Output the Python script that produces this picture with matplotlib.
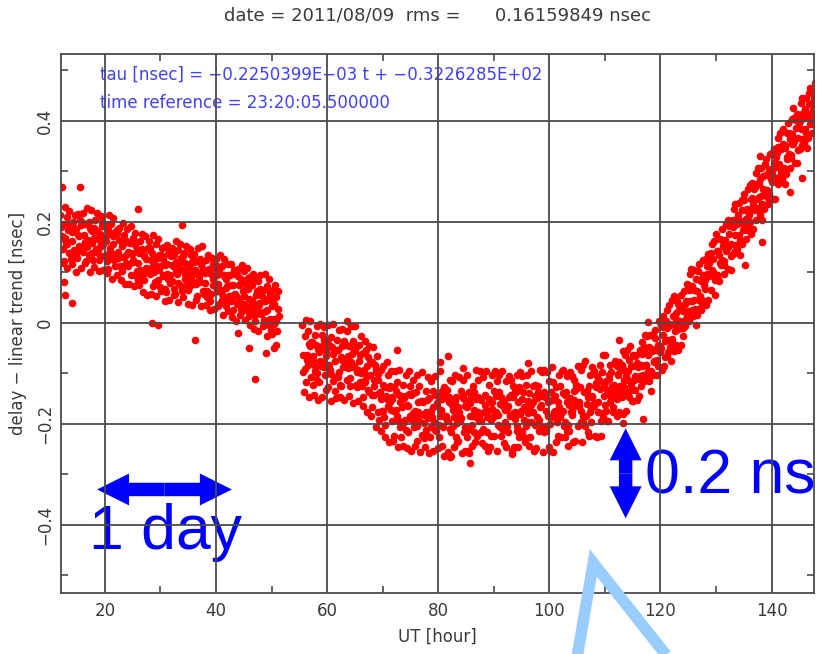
import matplotlib
matplotlib.use('Agg')
import matplotlib.pyplot as plt
from matplotlib.patches import FancyArrowPatch
from matplotlib.lines import Line2D
from matplotlib.ticker import MultipleLocator

plt.rcParams['font.family'] = ['DejaVu Sans']

title_text = 'date = 2011/08/09  rms =      0.16159849 nsec'
fit_text = 'tau [nsec] = \u22120.2250399E\u221203 t + \u22120.3226285E+02'
ref_text = 'time reference = 23:20:05.500000'
x_label = 'UT [hour]'
y_label = 'delay \u2212 linear trend [nsec]'
x_ticks = [20, 40, 60, 80, 100, 120, 140]
y_ticks = [-0.4, -0.2, 0, 0.2, 0.4]
y_tick_labels = ['\u22120.4', '\u22120.2', '0', '0.2', '0.4']

# each row: start hour, then four consecutive delay samples [nsec] (7.5 min apart)
sample_step = 0.125
left_scans = [
    (12.0, 0.213, 0.147, 0.171, 0.118), (12.5, 0.195, 0.122, 0.229, 0.164), (13.0, 0.156, 0.210, 0.108, 0.183),
    (13.5, 0.221, 0.139, 0.184, 0.127), (14.0, 0.162, 0.116, 0.200, 0.145), (14.5, 0.188, 0.214, 0.137, 0.101),
    (15.0, 0.129, 0.173, 0.215, 0.152), (15.5, 0.204, 0.108, 0.150, 0.196), (16.0, 0.217, 0.141, 0.173, 0.119),
    (16.5, 0.195, 0.122, 0.228, 0.164), (17.0, 0.156, 0.200, 0.101, 0.187), (17.5, 0.223, 0.139, 0.182, 0.125),
    (18.0, 0.168, 0.110, 0.204, 0.146), (18.5, 0.181, 0.217, 0.139, 0.103), (19.0, 0.125, 0.176, 0.212, 0.158),
    (19.5, 0.200, 0.104, 0.157, 0.191), (20.0, 0.196, 0.134, 0.162, 0.098), (20.5, 0.183, 0.107, 0.214, 0.149),
    (21.0, 0.142, 0.196, 0.087, 0.171), (21.5, 0.208, 0.125, 0.176, 0.113), (22.0, 0.137, 0.094, 0.183, 0.128),
    (22.5, 0.165, 0.188, 0.112, 0.084), (23.0, 0.103, 0.152, 0.197, 0.131), (23.5, 0.174, 0.076, 0.118, 0.163),
    (24.0, 0.186, 0.113, 0.141, 0.077), (24.5, 0.158, 0.095, 0.192, 0.136), (25.0, 0.124, 0.168, 0.073, 0.154),
    (25.5, 0.177, 0.092, 0.146, 0.083), (26.0, 0.119, 0.074, 0.163, 0.105), (26.5, 0.143, 0.176, 0.088, 0.062),
    (27.0, 0.085, 0.133, 0.172, 0.109), (27.5, 0.147, 0.056, 0.103, 0.144), (28.0, 0.162, 0.097, 0.125, 0.058),
    (28.5, 0.138, 0.072, 0.174, 0.116), (29.0, 0.104, 0.157, 0.053, 0.129), (29.5, 0.166, 0.085, 0.134, 0.071),
    (30.0, 0.113, 0.064, 0.148, 0.095), (30.5, 0.127, 0.151, 0.068, 0.043), (31.0, 0.062, 0.116, 0.155, 0.087),
    (31.5, 0.141, 0.046, 0.094, 0.133), (32.0, 0.148, 0.083, 0.112, 0.055), (32.5, 0.135, 0.058, 0.163, 0.102),
    (33.0, 0.096, 0.144, 0.042, 0.117), (33.5, 0.157, 0.073, 0.126, 0.064), (34.0, 0.104, 0.052, 0.139, 0.086),
    (34.5, 0.118, 0.153, 0.075, 0.037), (35.0, 0.066, 0.108, 0.147, 0.094), (35.5, 0.134, 0.035, 0.083, 0.125),
    (36.0, 0.137, 0.076, 0.104, 0.046), (36.5, 0.123, 0.054, 0.148, 0.093), (37.0, 0.085, 0.127, 0.034, 0.115),
    (37.5, 0.152, 0.063, 0.106, 0.057), (38.0, 0.078, 0.036, 0.124, 0.063), (38.5, 0.104, 0.135, 0.048, 0.025),
    (39.0, 0.043, 0.096, 0.128, 0.074), (39.5, 0.116, 0.027, 0.072, 0.113), (40.0, 0.126, 0.064, 0.095, 0.033),
    (40.5, 0.103, 0.038, 0.134, 0.066), (41.0, 0.057, 0.112, 0.016, 0.094), (41.5, 0.127, 0.045, 0.086, 0.034),
    (42.0, 0.073, 0.024, 0.117, 0.053), (42.5, 0.094, 0.116, 0.043, 0.012), (43.0, 0.026, 0.074, 0.105, 0.057),
    (43.5, 0.098, 0.004, 0.052, 0.093), (44.0, 0.106, 0.043, 0.076, 0.015), (44.5, 0.087, 0.023, 0.114, 0.064),
    (45.0, 0.054, 0.102, 0.006, 0.077), (45.5, 0.108, 0.026, 0.068, 0.013), (46.0, 0.047, -0.004, 0.093, 0.035),
    (46.5, 0.074, 0.097, 0.024, -0.013), (47.0, 0.003, 0.055, 0.087, 0.028), (47.5, 0.083, -0.017, 0.036, 0.068),
    (48.0, 0.094, 0.018, 0.053, -0.007), (48.5, 0.066, 0.006, 0.097, 0.043), (49.0, 0.024, 0.073, -0.026, 0.048),
    (49.5, 0.086, -0.004, 0.055, -0.014), (50.0, 0.034, -0.023, 0.066, 0.008), (50.5, 0.037, 0.074, 0.003, -0.043),
    (51.0, -0.016, 0.027, 0.064, 0.013),
]

mid_scans = [
    (55.5, -0.004, -0.097, -0.063, -0.136), (56.0, -0.027, -0.118, 0.006, -0.074), (56.5, -0.083, -0.016, -0.147, -0.045),
    (57.0, 0.004, -0.107, -0.038, -0.124), (57.5, -0.066, -0.143, -0.025, -0.096), (58.0, -0.043, -0.006, -0.114, -0.152),
    (58.5, -0.117, -0.057, -0.003, -0.085), (59.0, -0.024, -0.146, -0.077, -0.034), (59.5, -0.008, -0.104, -0.056, -0.133),
    (60.0, -0.036, -0.127, -0.005, -0.083), (60.5, -0.094, -0.028, -0.155, -0.047), (61.0, -0.002, -0.116, -0.054, -0.134),
    (61.5, -0.076, -0.148, -0.033, -0.107), (62.0, -0.053, -0.014, -0.123, -0.146), (62.5, -0.126, -0.073, -0.012, -0.088),
    (63.0, -0.035, -0.153, -0.086, -0.043), (63.5, -0.017, -0.113, -0.066, -0.144), (64.0, -0.046, -0.125, -0.007, -0.077),
    (64.5, -0.087, -0.036, -0.158, -0.054), (65.0, -0.006, -0.124, -0.048, -0.127), (65.5, -0.093, -0.155, -0.044, -0.118),
    (66.0, -0.064, -0.027, -0.126, -0.165), (66.5, -0.147, -0.094, -0.036, -0.113), (67.0, -0.054, -0.176, -0.105, -0.067),
    (67.5, -0.046, -0.137, -0.103, -0.184), (68.0, -0.078, -0.166, -0.047, -0.125), (68.5, -0.143, -0.084, -0.206, -0.097),
    (69.0, -0.065, -0.177, -0.114, -0.193), (69.5, -0.136, -0.214, -0.093, -0.174), (70.0, -0.124, -0.085, -0.187, -0.226),
    (70.5, -0.203, -0.145, -0.077, -0.164), (71.0, -0.104, -0.236, -0.157, -0.126), (71.5, -0.096, -0.194, -0.146, -0.233),
    (72.0, -0.127, -0.224, -0.095, -0.173), (72.5, -0.184, -0.117, -0.246, -0.143), (73.0, -0.094, -0.207, -0.145, -0.226),
    (73.5, -0.166, -0.243, -0.124, -0.197), (74.0, -0.144, -0.103, -0.213, -0.247), (74.5, -0.217, -0.164, -0.096, -0.185),
    (75.0, -0.125, -0.254, -0.193, -0.138), (75.5, -0.114, -0.206, -0.175, -0.243), (76.0, -0.136, -0.234, -0.104, -0.177),
    (76.5, -0.195, -0.126, -0.256, -0.154), (77.0, -0.097, -0.223, -0.156, -0.228), (77.5, -0.183, -0.246, -0.134, -0.213),
    (78.0, -0.153, -0.107, -0.224, -0.257), (78.5, -0.226, -0.174, -0.115, -0.186), (79.0, -0.134, -0.253, -0.196, -0.143),
    (79.5, -0.106, -0.215, -0.164, -0.248), (80.0, -0.145, -0.227, -0.096, -0.184), (80.5, -0.176, -0.244, -0.135, -0.207),
    (81.0, -0.127, -0.263, -0.187, -0.146), (81.5, -0.194, -0.133, -0.255, -0.157), (82.0, -0.146, -0.113, -0.217, -0.264),
    (82.5, -0.116, -0.204, -0.173, -0.246), (83.0, -0.104, -0.226, -0.147, -0.235), (83.5, -0.234, -0.166, -0.107, -0.195),
    (84.0, -0.186, -0.135, -0.258, -0.143), (84.5, -0.113, -0.217, -0.165, -0.254), (85.0, -0.155, -0.104, -0.226, -0.253),
    (85.5, -0.136, -0.257, -0.184, -0.147), (86.0, -0.185, -0.243, -0.126, -0.216), (86.5, -0.137, -0.235, -0.094, -0.186),
    (87.0, -0.225, -0.176, -0.114, -0.194), (87.5, -0.095, -0.216, -0.153, -0.237), (88.0, -0.107, -0.214, -0.176, -0.243),
    (88.5, -0.143, -0.096, -0.216, -0.254), (89.0, -0.175, -0.124, -0.246, -0.156), (89.5, -0.224, -0.157, -0.103, -0.186),
    (90.0, -0.134, -0.225, -0.095, -0.176), (90.5, -0.116, -0.254, -0.183, -0.137), (91.0, -0.103, -0.207, -0.146, -0.224),
    (91.5, -0.096, -0.213, -0.164, -0.237), (92.0, -0.173, -0.245, -0.116, -0.204), (92.5, -0.217, -0.165, -0.106, -0.183),
    (93.0, -0.184, -0.113, -0.253, -0.147), (93.5, -0.125, -0.246, -0.177, -0.134), (94.0, -0.136, -0.104, -0.215, -0.246),
    (94.5, -0.127, -0.226, -0.097, -0.174), (95.0, -0.105, -0.214, -0.137, -0.226), (95.5, -0.166, -0.236, -0.124, -0.205),
    (96.0, -0.104, -0.197, -0.155, -0.243), (96.5, -0.226, -0.163, -0.095, -0.176), (97.0, -0.177, -0.126, -0.254, -0.145),
    (97.5, -0.124, -0.247, -0.186, -0.126), (98.0, -0.136, -0.215, -0.094, -0.167), (98.5, -0.145, -0.097, -0.206, -0.256),
    (99.0, -0.093, -0.216, -0.146, -0.215), (99.5, -0.097, -0.205, -0.157, -0.246), (100.0, -0.115, -0.253, -0.184, -0.136),
    (100.5, -0.186, -0.117, -0.256, -0.144), (101.0, -0.175, -0.236, -0.127, -0.196), (101.5, -0.224, -0.156, -0.104, -0.187),
    (102.0, -0.126, -0.227, -0.096, -0.175), (102.5, -0.094, -0.204, -0.143, -0.227), (103.0, -0.136, -0.106, -0.214, -0.244),
]

right_scans = [
    (103.5, -0.214, -0.163, -0.097, -0.176), (104.0, -0.174, -0.106, -0.236, -0.135), (104.5, -0.113, -0.233, -0.165, -0.124),
    (105.0, -0.125, -0.204, -0.086, -0.157), (105.5, -0.127, -0.094, -0.196, -0.235), (106.0, -0.084, -0.197, -0.136, -0.205),
    (106.5, -0.076, -0.185, -0.134, -0.216), (107.0, -0.147, -0.224, -0.103, -0.176), (107.5, -0.196, -0.145, -0.087, -0.163),
    (108.0, -0.164, -0.096, -0.224, -0.127), (108.5, -0.105, -0.226, -0.157, -0.113), (109.0, -0.116, -0.084, -0.194, -0.225),
    (109.5, -0.097, -0.186, -0.064, -0.145), (110.0, -0.063, -0.175, -0.116, -0.194), (110.5, -0.136, -0.194, -0.103, -0.157),
    (111.0, -0.084, -0.147, -0.125, -0.176), (111.5, -0.166, -0.123, -0.076, -0.145), (112.0, -0.127, -0.085, -0.184, -0.104),
    (112.5, -0.077, -0.176, -0.134, -0.093), (113.0, -0.084, -0.146, -0.055, -0.113), (113.5, -0.094, -0.063, -0.136, -0.174),
    (114.0, -0.054, -0.137, -0.095, -0.146), (114.5, -0.046, -0.124, -0.085, -0.154), (115.0, -0.063, -0.155, -0.114, -0.066),
    (115.5, -0.106, -0.064, -0.153, -0.085), (116.0, -0.087, -0.144, -0.053, -0.106), (116.5, -0.125, -0.086, -0.037, -0.104),
    (117.0, -0.054, -0.116, -0.024, -0.083), (117.5, -0.026, -0.107, -0.064, -0.115), (118.0, -0.047, -0.024, -0.096, -0.134),
    (118.5, -0.056, -0.104, -0.023, -0.077), (119.0, -0.014, -0.076, -0.053, -0.104), (119.5, -0.086, -0.043, 0.004, -0.057),
    (120.0, -0.046, -0.004, -0.094, -0.025), (120.5, 0.013, -0.085, -0.036, -0.003), (121.0, 0.004, -0.066, 0.025, -0.034),
    (121.5, -0.003, 0.036, -0.047, -0.076), (122.0, 0.046, -0.037, 0.014, -0.055), (122.5, 0.053, -0.016, 0.007, -0.044),
    (123.0, 0.044, -0.054, -0.013, 0.026), (123.5, 0.004, 0.056, -0.043, 0.034), (124.0, 0.023, -0.026, 0.064, 0.006),
    (124.5, -0.006, 0.043, 0.076, 0.024), (125.0, 0.074, 0.004, 0.096, 0.043), (125.5, 0.106, 0.025, 0.073, 0.014),
    (126.0, 0.066, 0.104, 0.027, -0.005), (126.5, 0.064, 0.016, 0.103, 0.046), (127.0, 0.117, 0.054, 0.083, 0.026),
    (127.5, 0.046, 0.094, 0.124, 0.075), (128.0, 0.084, 0.126, 0.036, 0.113), (128.5, 0.137, 0.046, 0.093, 0.135),
    (129.0, 0.134, 0.065, 0.157, 0.104), (129.5, 0.126, 0.163, 0.085, 0.056), (130.0, 0.176, 0.094, 0.143, 0.086),
    (130.5, 0.135, 0.083, 0.166, 0.114), (131.0, 0.186, 0.124, 0.153, 0.096), (131.5, 0.114, 0.165, 0.196, 0.143),
    (132.0, 0.154, 0.203, 0.106, 0.176), (132.5, 0.196, 0.104, 0.156, 0.193), (133.0, 0.204, 0.136, 0.226, 0.174),
    (133.5, 0.236, 0.154, 0.205, 0.146), (134.0, 0.214, 0.237, 0.164, 0.135), (134.5, 0.197, 0.156, 0.244, 0.184),
    (135.0, 0.255, 0.194, 0.223, 0.166), (135.5, 0.184, 0.226, 0.266, 0.213), (136.0, 0.224, 0.273, 0.175, 0.246),
    (136.5, 0.276, 0.186, 0.234, 0.265), (137.0, 0.274, 0.203, 0.296, 0.245), (137.5, 0.306, 0.224, 0.275, 0.214),
    (138.0, 0.284, 0.307, 0.236, 0.204), (138.5, 0.266, 0.225, 0.314, 0.254), (139.0, 0.325, 0.264, 0.293, 0.236),
    (139.5, 0.256, 0.304, 0.335, 0.284), (140.0, 0.294, 0.336, 0.245, 0.316), (140.5, 0.345, 0.246, 0.286, 0.334),
    (141.0, 0.336, 0.274, 0.366, 0.315), (141.5, 0.376, 0.295, 0.344, 0.284), (142.0, 0.354, 0.384, 0.306, 0.275),
    (142.5, 0.346, 0.294, 0.375, 0.324), (143.0, 0.396, 0.335, 0.364, 0.306), (143.5, 0.326, 0.374, 0.404, 0.355),
    (144.0, 0.364, 0.406, 0.316, 0.385), (144.5, 0.414, 0.316, 0.366, 0.396), (145.0, 0.406, 0.345, 0.436, 0.384),
    (145.5, 0.446, 0.364, 0.415, 0.356), (146.0, 0.424, 0.446, 0.375, 0.346), (146.5, 0.414, 0.366, 0.455, 0.394),
    (147.0, 0.465, 0.404, 0.436, 0.376), (147.5, 0.394, 0.446, 0.475, 0.424),
]

# denser core of the band: hour, then three samples (20 min apart)
core_offsets = [0.1, 0.43, 0.77]
core_scans = [
    (12, 0.190, 0.147, 0.169), (13, 0.156, 0.196, 0.138), (14, 0.179, 0.132, 0.186), (15, 0.143, 0.172, 0.194),
    (16, 0.198, 0.161, 0.150), (17, 0.135, 0.183, 0.159), (18, 0.187, 0.144, 0.166), (19, 0.151, 0.191, 0.133),
    (20, 0.169, 0.122, 0.176), (21, 0.128, 0.157, 0.179), (22, 0.178, 0.141, 0.130), (23, 0.110, 0.158, 0.134),
    (24, 0.160, 0.117, 0.139), (25, 0.121, 0.161, 0.103), (26, 0.139, 0.092, 0.146), (27, 0.098, 0.127, 0.149),
    (28, 0.148, 0.111, 0.100), (29, 0.080, 0.128, 0.104), (30, 0.135, 0.092, 0.114), (31, 0.096, 0.136, 0.078),
    (32, 0.114, 0.067, 0.121), (33, 0.078, 0.107, 0.129), (34, 0.133, 0.096, 0.085), (35, 0.070, 0.118, 0.094),
    (36, 0.120, 0.077, 0.099), (37, 0.081, 0.121, 0.063), (38, 0.099, 0.052, 0.106), (39, 0.058, 0.087, 0.109),
    (40, 0.113, 0.076, 0.065), (41, 0.045, 0.093, 0.069), (42, 0.095, 0.052, 0.074), (43, 0.056, 0.096, 0.038),
    (44, 0.074, 0.027, 0.081), (45, 0.038, 0.067, 0.089), (46, 0.083, 0.046, 0.035), (47, 0.015, 0.063, 0.039),
    (48, 0.065, 0.022, 0.044), (49, 0.026, 0.066, 0.008), (50, 0.044, -0.003, 0.051),
    (56, -0.092, -0.063, -0.041), (57, -0.037, -0.074, -0.085), (58, -0.100, -0.052, -0.076), (59, -0.045, -0.088, -0.066),
    (60, -0.084, -0.044, -0.102), (61, -0.061, -0.108, -0.054), (62, -0.097, -0.068, -0.046), (63, -0.042, -0.079, -0.090),
    (64, -0.110, -0.062, -0.086), (65, -0.055, -0.098, -0.076), (66, -0.099, -0.059, -0.117), (67, -0.086, -0.133, -0.079),
    (68, -0.142, -0.113, -0.091), (69, -0.102, -0.139, -0.150), (70, -0.175, -0.127, -0.151), (71, -0.130, -0.173, -0.151),
    (72, -0.174, -0.134, -0.192), (73, -0.156, -0.203, -0.149), (74, -0.192, -0.163, -0.141), (75, -0.142, -0.179, -0.190),
    (76, -0.205, -0.157, -0.181), (77, -0.155, -0.198, -0.176), (78, -0.189, -0.149, -0.207), (79, -0.166, -0.213, -0.159),
    (80, -0.202, -0.173, -0.151), (81, -0.147, -0.184, -0.195), (82, -0.210, -0.162, -0.186), (83, -0.155, -0.198, -0.176),
    (84, -0.189, -0.149, -0.207), (85, -0.166, -0.213, -0.159), (86, -0.202, -0.173, -0.151), (87, -0.147, -0.184, -0.195),
    (88, -0.210, -0.162, -0.186), (89, -0.150, -0.193, -0.171), (90, -0.184, -0.144, -0.202), (91, -0.161, -0.208, -0.154),
    (92, -0.197, -0.168, -0.146), (93, -0.142, -0.179, -0.190), (94, -0.205, -0.157, -0.181), (95, -0.150, -0.193, -0.171),
    (96, -0.179, -0.139, -0.197), (97, -0.156, -0.203, -0.149), (98, -0.192, -0.163, -0.141), (99, -0.137, -0.174, -0.185),
    (100, -0.200, -0.152, -0.176), (101, -0.145, -0.188, -0.166), (102, -0.179, -0.139, -0.197), (103, -0.156, -0.203, -0.149),
    (104, -0.182, -0.153, -0.131), (105, -0.127, -0.164, -0.175), (106, -0.185, -0.137, -0.161), (107, -0.125, -0.168, -0.146),
    (108, -0.159, -0.119, -0.177), (109, -0.131, -0.178, -0.124), (110, -0.162, -0.133, -0.111), (111, -0.097, -0.134, -0.145),
    (112, -0.150, -0.102, -0.126), (113, -0.085, -0.128, -0.106), (114, -0.114, -0.074, -0.132), (115, -0.086, -0.133, -0.079),
    (116, -0.112, -0.083, -0.061), (117, -0.047, -0.084, -0.095), (118, -0.100, -0.052, -0.076), (119, -0.030, -0.073, -0.051),
    (120, -0.049, -0.009, -0.067), (121, -0.011, -0.058, -0.004), (122, -0.032, -0.003, 0.019), (123, 0.038, 0.001, -0.010),
    (124, -0.010, 0.038, 0.014), (125, 0.065, 0.022, 0.044), (126, 0.046, 0.086, 0.028), (127, 0.084, 0.037, 0.091),
    (128, 0.068, 0.097, 0.119), (129, 0.138, 0.101, 0.090), (130, 0.095, 0.143, 0.119), (131, 0.165, 0.122, 0.144),
    (132, 0.151, 0.191, 0.133), (133, 0.189, 0.142, 0.196), (134, 0.173, 0.202, 0.224), (135, 0.243, 0.206, 0.195),
    (136, 0.200, 0.248, 0.224), (137, 0.270, 0.227, 0.249), (138, 0.251, 0.291, 0.233), (139, 0.294, 0.247, 0.301),
    (140, 0.278, 0.307, 0.329), (141, 0.348, 0.311, 0.300), (142, 0.305, 0.353, 0.329), (143, 0.375, 0.332, 0.354),
    (144, 0.361, 0.401, 0.343), (145, 0.399, 0.352, 0.406), (146, 0.383, 0.412, 0.434), (147, 0.458, 0.421, 0.410),
]

# scattered points away from the main band
stray_hours = [12.3, 15.5, 12.6, 12.9, 14.0, 26.0, 33.8, 28.5, 29.5, 36.2, 44.0, 46.0, 47.0,
               49.0, 50.5, 63.5, 72.5, 80.3, 81.8, 84.5, 82.1, 85.7, 93.2, 96.2, 100.4,
               112.5, 113.3, 113.3, 116.9, 117.8, 135.2, 138.2, 137.9, 141.0, 143.3, 145.4, 143.9]
stray_delays = [0.27, 0.27, 0.08, 0.055, 0.04, 0.226, 0.193, 0.00, -0.005, -0.034, -0.02, -0.05, -0.112,
                -0.06, -0.05, 0.004, -0.053, -0.078, -0.065, -0.09, -0.265, -0.278, -0.26, -0.079, -0.087,
                -0.033, -0.199, -0.18, -0.19, 0.002, 0.114, 0.16, 0.33, 0.347, 0.26, 0.286, 0.425]

xs, ys = [], []
for row in left_scans + mid_scans + right_scans:
    for k, d in enumerate(row[1:]):
        xs.append(row[0] + k * sample_step)
        ys.append(d)
for row in core_scans:
    for off, d in zip(core_offsets, row[1:]):
        xs.append(row[0] + off)
        ys.append(d)
xs += stray_hours
ys += stray_delays

W, H = 818, 654
fig = plt.figure(figsize=(W / 100, H / 100), dpi=100)
ax = fig.add_axes([61 / W, 1 - 592.5 / H, (814.3 - 61) / W, (592.5 - 53.7) / H])

ax.scatter(xs, ys, s=30, c='#ff0000', marker='o', linewidths=0, zorder=1)
ax.set_xlim(12.1, 147.7)
ax.set_ylim(-0.534, 0.533)

grid_col = '#4a4a4a'
txt_col = '#3a3a3a'
ax.set_axisbelow(False)
ax.grid(True, which='major', color=grid_col, lw=1.3)
for sp in ax.spines.values():
    sp.set_color(grid_col)
    sp.set_linewidth(1.3)

ax.set_xticks(x_ticks)
ax.set_yticks(y_ticks)
ax.set_yticklabels(y_tick_labels, rotation=90, va='center')
ax.xaxis.set_minor_locator(MultipleLocator(10))
ax.yaxis.set_minor_locator(MultipleLocator(0.1))
ax.tick_params(which='major', length=0, labelsize=12, labelcolor=txt_col, pad=7)
ax.tick_params(which='minor', direction='in', length=5, width=1.2, color=grid_col,
               top=True, right=True)
ax.tick_params(axis='y', which='major', pad=5)

fig.text(438 / W, 1 - 15 / H, title_text, ha='center', va='center', fontsize=13, color=txt_col)
fig.text(437 / W, 1 - 637 / H, x_label, ha='center', va='center', fontsize=12, color=txt_col)
fig.text(18 / W, 1 - 323 / H, y_label, ha='center', va='center', rotation=90,
         fontsize=12, color=txt_col)

# fit info, drawn under the grid lines like the original
ax.text(100 / W, 1 - 75 / H, fit_text, transform=fig.transFigure, va='center',
        fontsize=12, color='#4040ff', zorder=2)
ax.text(100 / W, 1 - 102.5 / H, ref_text, transform=fig.transFigure, va='center',
        fontsize=12, color='#4040ff', zorder=2)

# scale markers
big = dict(fontsize=45, color='#0000ff', family=['Liberation Sans', 'DejaVu Sans'],
           va='baseline', ha='left', zorder=2)
ax.text(17.2, -0.448, '1 day', **big)
ax.text(117.2, -0.338, '0.2 ns', **big)

def double_arrow(p0, p1):
    mid = ((p0[0] + p1[0]) / 2, (p0[1] + p1[1]) / 2)
    for tip in (p0, p1):
        ax.add_patch(FancyArrowPatch(mid, tip, arrowstyle='simple,head_length=1.0,head_width=1.0,tail_width=0.42',
                                     mutation_scale=23, color='#0000ff', lw=0,
                                     shrinkA=0, shrinkB=0, zorder=2))

double_arrow((18.6, -0.33), (42.85, -0.33))
double_arrow((113.74, -0.209), (113.74, -0.387))

# light blue pointer at the bottom
pts = [(574.5, 672), (593.3, 563), (679.5, 672)]
fig.add_artist(Line2D([p[0] / W for p in pts], [1 - p[1] / H for p in pts],
                      transform=fig.transFigure, color='#99ccff', lw=8.3,
                      solid_joinstyle='miter', solid_capstyle='butt', zorder=5))

fig.savefig('out.png', dpi=100)
